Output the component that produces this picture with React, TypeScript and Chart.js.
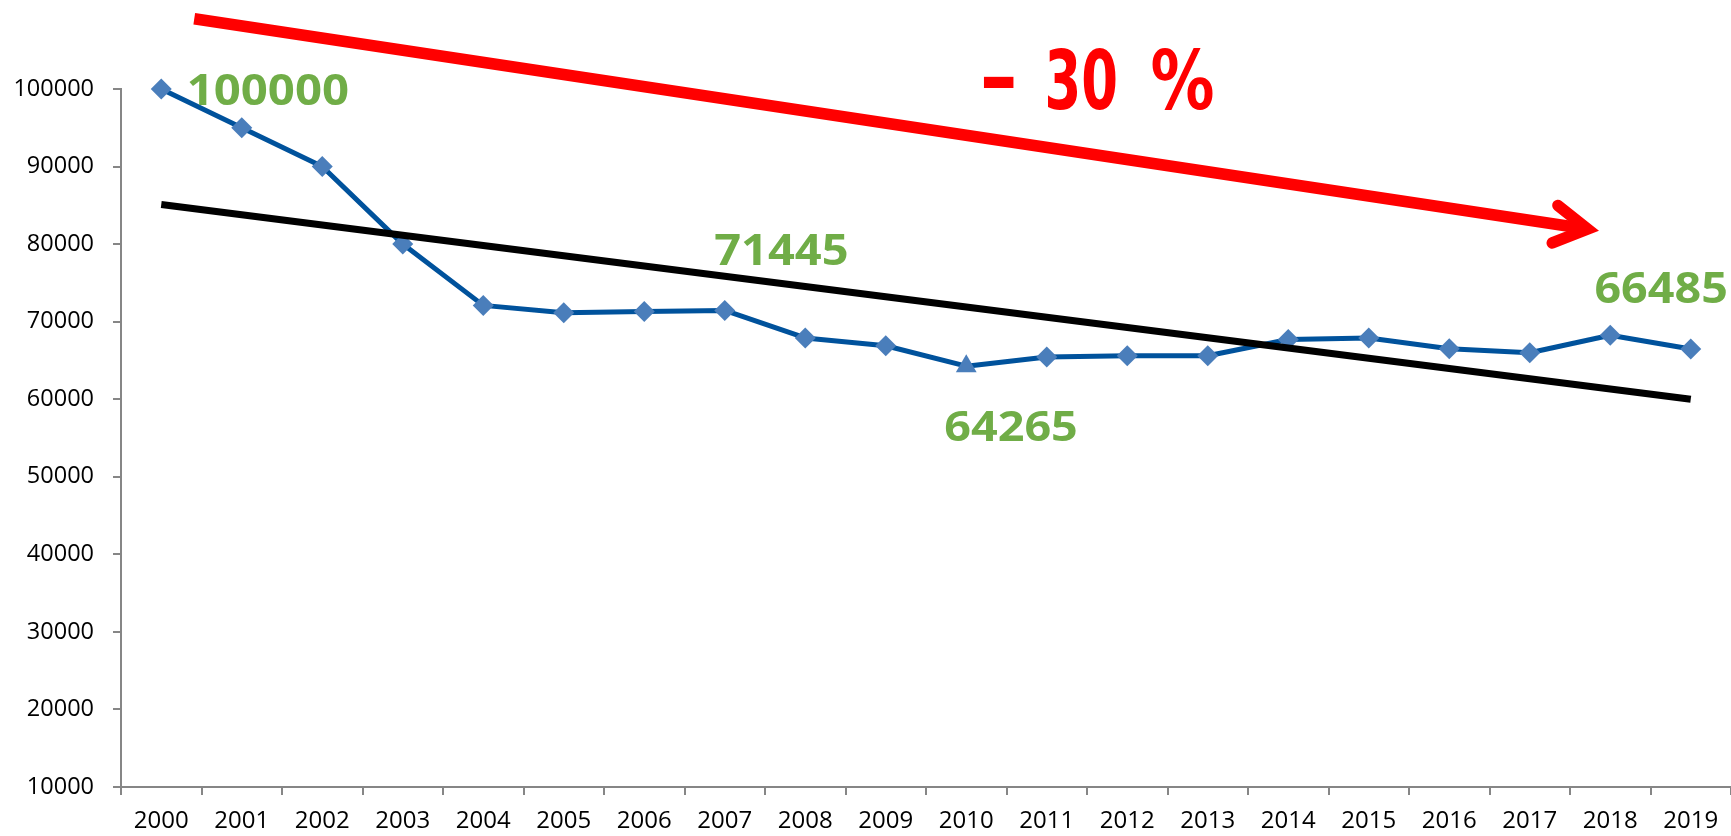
import React, { useEffect, useRef } from "react";
import { Chart, registerables } from "chart.js";

Chart.register(...registerables);

// ---------- data ----------
const years = [
  "2000", "2001", "2002", "2003", "2004", "2005", "2006", "2007", "2008", "2009",
  "2010", "2011", "2012", "2013", "2014", "2015", "2016", "2017", "2018", "2019",
];
const values = [
  100000, 95000, 90000, 80000, 72100, 71150, 71300, 71445, 67900, 66900,
  64265, 65450, 65600, 65600, 67700, 67900, 66500, 66000, 68250, 66485,
];
// linear trend line: only its two ends are given
const trendValues: (number | null)[] = [
  85100, null, null, null, null, null, null, null, null, null,
  null, null, null, null, null, null, null, null, null, 60000,
];
const yTicks = [10000, 20000, 30000, 40000, 50000, 60000, 70000, 80000, 90000, 100000];
const minIndex = 10; // lowest year gets a triangle marker

// ---------- annotations (in axis units: category index / value) ----------
const greenLabels = [
  { text: "100000", x0: 0.345, x1: 2.32, top: 102030, bottom: 97850 },
  { text: "71445", x0: 6.879, x1: 8.515, top: 81380, bottom: 77200 },
  { text: "64265", x0: 9.745, x1: 11.364, top: 58580, bottom: 54490 },
  { text: "66485", x0: 17.823, x1: 19.438, top: 76430, bottom: 72260 },
];
const pctPieces = [
  { text: "-", x0: 10.209, x1: 10.594, top: 101590, bottom: 100090 },
  { text: "30", x0: 11.016, x1: 11.859, top: 105250, bottom: 97290 },
  { text: "%", x0: 12.308, x1: 13.066, top: 105250, bottom: 97290 },
];
const arrowFrom = [0.41, 109060];
const arrowTo = [17.86, 81716];

const GREEN = "#70AD47";
const RED = "#FF0000";

function drawInBox(
  ctx: CanvasRenderingContext2D,
  text: string,
  font: string,
  color: string,
  left: number,
  right: number,
  top: number,
  bottom: number
) {
  ctx.save();
  ctx.font = font;
  ctx.textAlign = "left";
  ctx.textBaseline = "alphabetic";
  const m = ctx.measureText(text);
  const inkL = -m.actualBoundingBoxLeft;
  const inkR = m.actualBoundingBoxRight;
  const inkT = -m.actualBoundingBoxAscent;
  const inkB = m.actualBoundingBoxDescent;
  const sx = (right - left) / (inkR - inkL);
  const sy = (bottom - top) / (inkB - inkT);
  ctx.translate(left, top);
  ctx.scale(sx, sy);
  ctx.translate(-inkL, -inkT);
  ctx.fillStyle = color;
  ctx.fillText(text, 0, 0);
  ctx.restore();
}

const annotationPlugin = {
  id: "annotations",
  afterDraw(chart: any) {
    const ctx: CanvasRenderingContext2D = chart.ctx;
    const xs = chart.scales.x;
    const ys = chart.scales.y;

    // red arrow
    const x0 = xs.getPixelForValue(arrowFrom[0]);
    const y0 = ys.getPixelForValue(arrowFrom[1]);
    const x1 = xs.getPixelForValue(arrowTo[0]);
    const y1 = ys.getPixelForValue(arrowTo[1]);
    const ang = Math.atan2(y1 - y0, x1 - x0);
    const lw = 11.5;
    const half = (30 * Math.PI) / 180;
    const headLen = 38;
    const miter = lw / 2 / Math.sin(half);
    const vx = x1 - Math.cos(ang) * miter;
    const vy = y1 - Math.sin(ang) * miter;
    ctx.save();
    ctx.strokeStyle = RED;
    ctx.lineWidth = lw;
    ctx.lineCap = "butt";
    ctx.beginPath();
    ctx.moveTo(x0, y0);
    ctx.lineTo(vx - Math.cos(ang) * 2, vy - Math.sin(ang) * 2);
    ctx.stroke();
    ctx.lineCap = "round";
    ctx.lineJoin = "miter";
    ctx.miterLimit = 10;
    ctx.beginPath();
    ctx.moveTo(vx - headLen * Math.cos(ang - half), vy - headLen * Math.sin(ang - half));
    ctx.lineTo(vx, vy);
    ctx.lineTo(vx - headLen * Math.cos(ang + half), vy - headLen * Math.sin(ang + half));
    ctx.stroke();
    ctx.restore();

    // "- 30 %"
    for (const p of pctPieces) {
      drawInBox(
        ctx,
        p.text,
        'bold 100px "DejaVu Sans Condensed", "DejaVu Sans", sans-serif',
        RED,
        xs.getPixelForValue(p.x0),
        xs.getPixelForValue(p.x1),
        ys.getPixelForValue(p.top),
        ys.getPixelForValue(p.bottom)
      );
    }

    // green value labels
    for (const g of greenLabels) {
      drawInBox(
        ctx,
        g.text,
        'bold 60px "Open Sans", sans-serif',
        GREEN,
        xs.getPixelForValue(g.x0),
        xs.getPixelForValue(g.x1),
        ys.getPixelForValue(g.top),
        ys.getPixelForValue(g.bottom)
      );
    }
  },
};

export default function App() {
  const canvasRef = useRef<HTMLCanvasElement | null>(null);

  useEffect(() => {
    document.body.style.margin = "0";
    const canvas = canvasRef.current;
    if (!canvas) return;
    const chart = new Chart(canvas, {
      type: "line",
      data: {
        labels: years,
        datasets: [
          {
            label: "Trend",
            data: trendValues,
            borderColor: "#000000",
            borderWidth: 7,
            pointRadius: 0,
            spanGaps: true,
            tension: 0,
            order: 0,
            clip: false,
          } as any,
          {
            label: "Value",
            data: values,
            borderColor: "#00529C",
            borderWidth: 5,
            borderJoinStyle: "round",
            pointStyle: values.map((_, i) => (i === minIndex ? "triangle" : "rectRot")),
            pointRadius: values.map((_, i) => (i === minIndex ? 12 : 10.5)),
            pointBackgroundColor: "#4A7EBB",
            pointBorderColor: "#4A7EBB",
            pointBorderWidth: 0,
            tension: 0,
            order: 1,
            clip: false,
          } as any,
        ],
      },
      options: {
        responsive: true,
        maintainAspectRatio: false,
        animation: false,
        events: [],
        layout: { autoPadding: false, padding: { top: 89, left: 0, right: 0, bottom: 0 } },
        plugins: {
          legend: { display: false },
          tooltip: { enabled: false },
        },
        scales: {
          x: {
            offset: true,
            grid: {
              offset: true,
              drawOnChartArea: false,
              drawTicks: true,
              tickLength: 8,
              color: "#868686",
              lineWidth: 2,
            },
            border: { color: "#868686", width: 2 },
            ticks: {
              color: "#000000",
              font: { family: '"Open Sans", sans-serif', size: 24 },
              padding: 12,
              maxRotation: 0,
              autoSkip: false,
            },
            afterFit: (s: any) => {
              s.height = 49;
              s.paddingLeft = 0;
              s.paddingRight = 0;
            },
          },
          y: {
            min: 10000,
            max: 100000,
            afterBuildTicks: (s: any) => {
              s.ticks = yTicks.map((v) => ({ value: v }));
            },
            grid: {
              drawOnChartArea: false,
              tickLength: 8,
              color: "#868686",
              lineWidth: 2,
            },
            border: { color: "#868686", width: 2 },
            ticks: {
              color: "#000000",
              font: { family: '"Open Sans", sans-serif', size: 23.5 },
              padding: 19,
              callback: (v: any) => String(v),
            },
            afterFit: (s: any) => {
              s.width = 121;
              s.paddingTop = 0;
              s.paddingBottom = 0;
            },
          },
        },
      } as any,
      plugins: [annotationPlugin],
    });
    return () => chart.destroy();
  }, []);

  return (
    <div
      style={{
        position: "fixed",
        left: 0,
        top: 0,
        width: 1731,
        height: 836,
        background: "#ffffff",
      }}
    >
      <canvas ref={canvasRef} />
    </div>
  );
}
